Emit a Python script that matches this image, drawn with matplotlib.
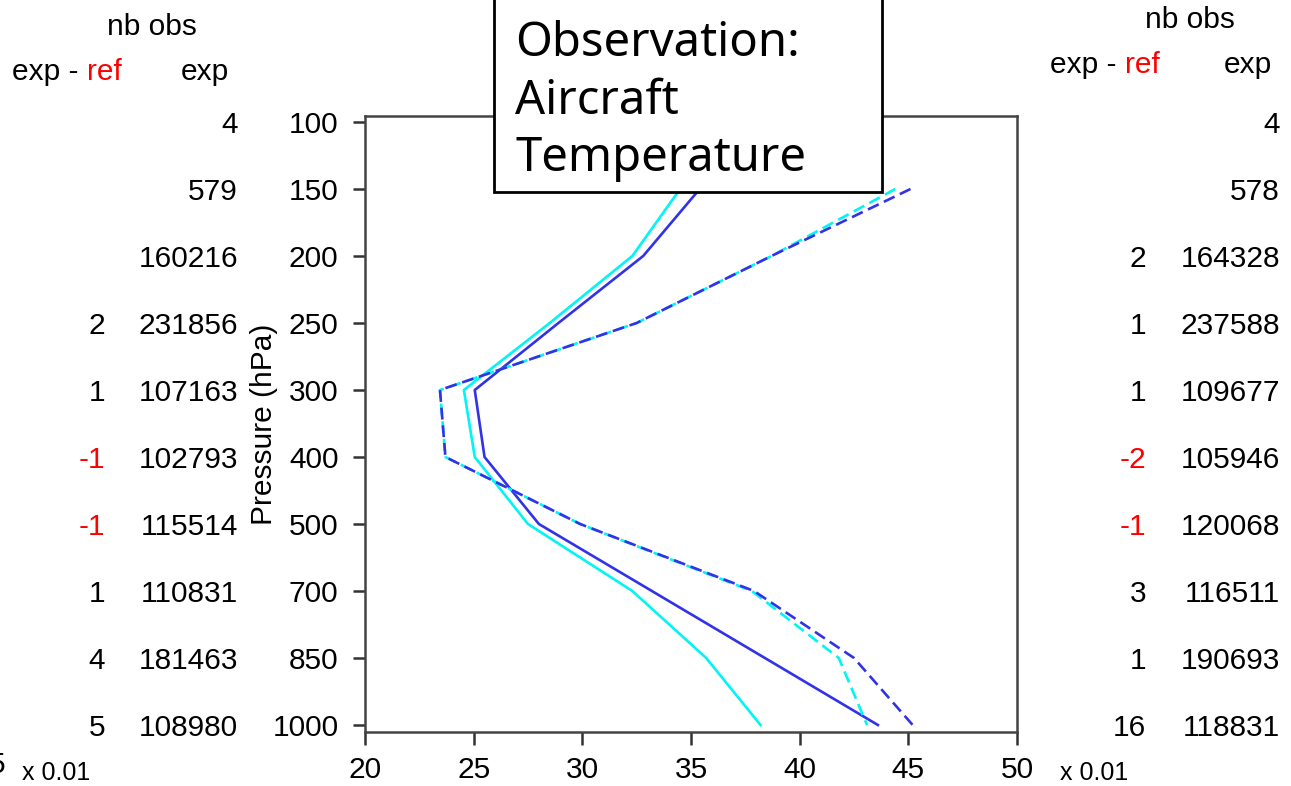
import matplotlib
matplotlib.use("AGG")
import matplotlib.pyplot as plt
from matplotlib.transforms import blended_transform_factory
from matplotlib.patches import Rectangle

# pressure levels (hPa), evenly spaced on the plot
levels = [100, 150, 200, 250, 300, 400, 500, 700, 850, 1000]

# profiles (x 0.01), level 100 has no value
exp_solid = [None, 35.4, 32.8, 28.9, 25.05, 25.5, 28.0, 33.2, 38.4, 43.6]
ref_solid = [None, 34.5, 32.3, 28.5, 24.55, 25.05, 27.5, 32.3, 35.7, 38.2]
exp_dashed = [None, 45.1, 38.7, 32.5, 23.45, 23.7, 29.9, 37.9, 42.5, 45.2]
ref_dashed = [None, 44.4, 38.7, 32.5, 23.45, 23.7, 29.9, 37.8, 41.8, 43.1]

# number of observations
left_exp = [4, 579, 160216, 231856, 107163, 102793, 115514, 110831, 181463, 108980]
left_diff = [None, None, None, 2, 1, -1, -1, 1, 4, 5]
right_exp = [4, 578, 164328, 237588, 109677, 105946, 120068, 116511, 190693, 118831]
right_diff = [None, None, 2, 1, 1, -2, -1, 3, 1, 16]

W, H = 1291, 786
FS = 21.5
fig = plt.figure(figsize=(W / 100, H / 100), dpi=100)
plt.rcParams['font.family'] = ['Liberation Sans', 'DejaVu Sans']

ax = fig.add_axes([365 / W, 54 / H, 652 / W, 616 / H])

BLUE = "#3232e6"
CYAN = "#00f5f5"
idx = list(range(len(levels)))


def plot_profile(vals, color, ls):
    pts = [(v, i) for v, i in zip(vals, idx) if v is not None]
    xs, ys = zip(*pts)
    kw = dict(color=color, lw=1.9)
    if ls == "dashed":
        kw["dashes"] = (4.5, 2.2)
    ax.plot(xs, ys, **kw)


plot_profile(ref_solid, CYAN, "solid")
plot_profile(exp_solid, BLUE, "solid")
plot_profile(ref_dashed, CYAN, "dashed")
plot_profile(exp_dashed, BLUE, "dashed")

ax.set_xlim(20, 50)
ax.set_ylim(9 + 7 / 67, -6 / 67)
ax.set_yticks(idx)
ax.set_yticklabels([str(l) for l in levels])
ax.set_xticks([20, 25, 30, 35, 40, 45, 50])
ax.tick_params(axis="both", direction="out", length=9, width=1.8, color="#333333",
               labelsize=FS, right=False, top=False)
ax.tick_params(axis="y", pad=10)
ax.tick_params(axis="x", pad=8)
for sp in ax.spines.values():
    sp.set_color("#444444")
    sp.set_linewidth(1.8)
ax.set_ylabel("Pressure (hPa)", fontsize=FS, labelpad=-4)

# side columns: x in figure pixels, y in level index
tr = blended_transform_factory(fig.transFigure, ax.transData)


def column(values, xr, colored):
    for i, v in enumerate(values):
        if v is None:
            continue
        col = "red" if (colored and v < 0) else "black"
        ax.text(xr / W, i + 0.05, str(v), transform=tr, ha="right", va="center",
                fontsize=FS, color=col, clip_on=False)


column(left_diff, 105, True)
column(left_exp, 238, False)
column(right_diff, 1146, True)
column(right_exp, 1280, False)


def header(xc_nb, y_nb, x_er, x_exp, y_row):
    fig.text(xc_nb / W, 1 - y_nb / H, "nb obs", ha="center", va="center", fontsize=FS)
    t = fig.text(x_er / W, 1 - y_row / H, "exp - ", ha="left", va="center", fontsize=FS)
    fig.canvas.draw()
    bb = t.get_window_extent()
    fig.text(bb.x1 / W, 1 - y_row / H, "ref", ha="left", va="center", fontsize=FS, color="red")
    fig.text(x_exp / W, 1 - y_row / H, "exp", ha="center", va="center", fontsize=FS)


header(152, 27, 12, 205, 72)
header(1190, 20, 1050, 1248, 65)

fig.text(22 / W, 1 - 773 / H, "x 0.01", ha="left", va="center", fontsize=18)
fig.text(1060 / W, 1 - 773 / H, "x 0.01", ha="left", va="center", fontsize=18)
fig.text(5 / W, 1 - 765 / H, "5", ha="right", va="center", fontsize=FS)

# title box
fig.patches.append(Rectangle((494 / W, 1 - 192 / H), 388 / W, 200 / H, transform=fig.transFigure,
                             facecolor="white", edgecolor="black", lw=2, zorder=5))
fig.text(515 / W, 1 - 101 / H, "Observation:\nAircraft\nTemperature", ha="left", va="center",
         fontsize=34, family="Noto Sans", linespacing=1.3, zorder=6)

plt.savefig("out.png", dpi=100)
